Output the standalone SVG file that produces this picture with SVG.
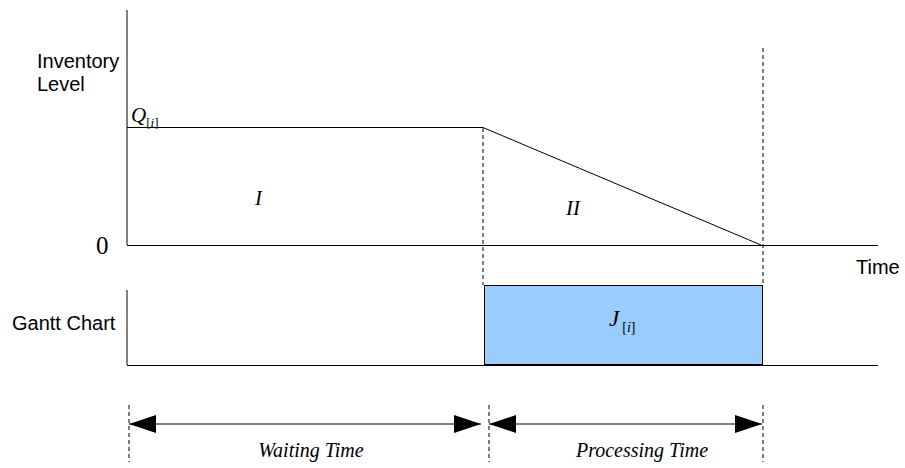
<svg xmlns="http://www.w3.org/2000/svg" width="905" height="468" viewBox="0 0 905 468">
<style>
.sans{font-family:"Liberation Sans",Arial,sans-serif;font-size:20px;fill:#000}
.ser{font-family:"Liberation Serif","Times New Roman",serif;font-style:italic;fill:#000}
.up{font-style:normal}
.axis{stroke:#000;stroke-width:1;fill:none}
.dash{stroke:#000;stroke-width:1;stroke-dasharray:4,3;fill:none}
.arr{stroke:#000;stroke-width:1;fill:none;marker-start:url(#ah);marker-end:url(#ah)}
</style>
<defs>
<marker id="ah" viewBox="0 0 27 18" refX="27" refY="9" markerWidth="27" markerHeight="18" markerUnits="userSpaceOnUse" orient="auto-start-reverse">
<path d="M0,0 L27,9 L0,18 Z" fill="#000"/>
</marker>
</defs>
<rect width="905" height="468" fill="#fff"/>
<g id="inventory-chart">
<line class="axis" x1="127" y1="10" x2="127" y2="245" stroke="#555"/>
<line class="axis" x1="127" y1="245.5" x2="878" y2="245.5"/>
<polyline class="axis" points="127,127.5 483,127.5 761,245"/>
<text class="sans" x="37" y="68" font-size="21">Inventory</text>
<text class="sans" x="37" y="91" font-size="21">Level</text>
<text class="ser" x="131" y="122" font-size="21">Q<tspan font-size="13" dy="5"><tspan class="up">[</tspan>i<tspan class="up">]</tspan></tspan></text>
<text x="96" y="254" font-family="Liberation Serif, serif" font-size="25">0</text>
<text class="ser" x="255" y="205" font-size="21">I</text>
<text class="ser" x="566" y="215" font-size="21">II</text>
<text class="sans" x="856" y="274">Time</text>
</g>
<g id="gantt-chart">
<line class="axis" x1="127" y1="290" x2="127" y2="365" stroke="#555"/>
<line class="axis" x1="127" y1="365.5" x2="878" y2="365.5"/>
<rect id="job" x="484.5" y="285.5" width="278" height="79" fill="#99ccff" stroke="#000"/>
<text class="sans" x="12" y="330" font-size="21">Gantt Chart</text>
<text class="ser" x="609" y="326" font-size="23">J<tspan font-size="14" dy="6" dx="3"><tspan class="up">[</tspan>i<tspan class="up">]</tspan></tspan></text>
</g>
<g id="connectors">
<line class="dash" x1="483" y1="128" x2="483" y2="285"/>
<line class="dash" x1="763" y1="48" x2="763" y2="285"/>
<line class="dash" x1="129" y1="405" x2="129" y2="462"/>
<line class="dash" x1="489" y1="405" x2="489" y2="462"/>
<line class="dash" x1="763" y1="405" x2="763" y2="462"/>
<line class="arr" x1="129" y1="424" x2="481" y2="424"/>
<line class="arr" x1="489" y1="424" x2="762" y2="424"/>
</g>
<g id="labels">
<text class="ser" x="311" y="457" font-size="20" text-anchor="middle">Waiting Time</text>
<text class="ser" x="642" y="457" font-size="20" text-anchor="middle">Processing Time</text>
</g>
</svg>
